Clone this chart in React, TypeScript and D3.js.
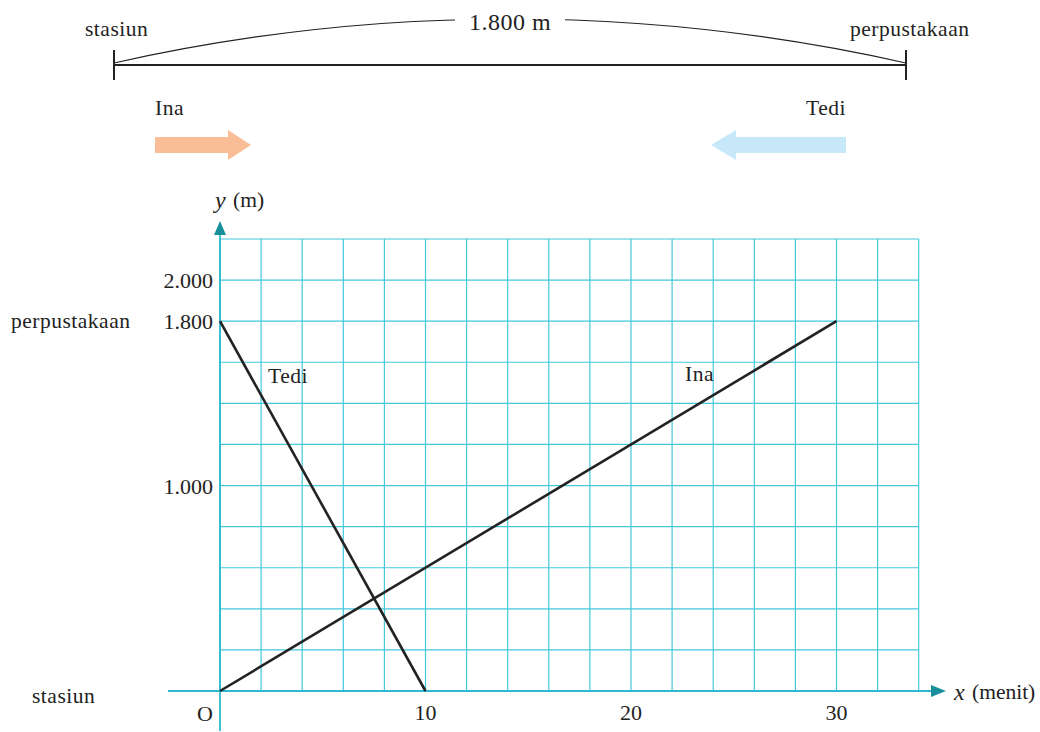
import React from "react";
import * as d3 from "d3";

const xTicks = [10, 20, 30];
const yTicks = [1000, 1800, 2000];
const inaLine = [
  { t: 0, d: 0 },
  { t: 30, d: 1800 },
];
const tediLine = [
  { t: 0, d: 1800 },
  { t: 10, d: 0 },
];
const xGrid = d3.range(0, 35, 2);
const yGrid = d3.range(0, 2201, 200);
const distanceLabel = "1.800 m";

const W = 1040;
const H = 732;
const FONT = "'Liberation Serif', 'Times New Roman', serif";
const GRID = "#43c8dc";
const AXIS = "#2fb9d0";
const ARROW = "#17909c";
const INK = "#222";
const LBL = 21.5;
const TICK = 22;
const LS = 0.5;

export default function App() {
  const x = d3.scaleLinear().domain([0, 34]).range([220, 918.7]);
  const y = d3.scaleLinear().domain([0, 2200]).range([691, 239]);
  const line = d3
    .line<{ t: number; d: number }>()
    .x((p) => x(p.t))
    .y((p) => y(p.d));

  const ax0 = 114,
    ax1 = 906,
    ay = 63,
    sag = 44;
  const half = (ax1 - ax0) / 2;
  const R = (half * half + sag * sag) / (2 * sag);
  const arcPath = `M${ax0},${ay} A${R},${R} 0 0 1 ${ax1},${ay}`;

  return (
    <svg
      width={W}
      height={H}
      style={{ position: "absolute", left: 0, top: 0, background: "#fff" }}
      fontFamily={FONT}
    >
      {/* Top scheme */}
      <path d={arcPath} fill="none" stroke={INK} strokeWidth={1.2} />
      <rect x={455} y={4} width={110} height={34} fill="#fff" />
      <text x={510} y={30} textAnchor="middle" fontSize={24} fill={INK} letterSpacing={0.5}>
        {distanceLabel}
      </text>
      <line x1={ax0} x2={ax1} y1={65} y2={65} stroke={INK} strokeWidth={2} />
      <line x1={ax0} x2={ax0} y1={50} y2={80} stroke={INK} strokeWidth={2} />
      <line x1={ax1} x2={ax1} y1={50} y2={80} stroke={INK} strokeWidth={2} />
      <text x={85} y={36} fontSize={LBL} fill={INK} letterSpacing={LS}>
        stasiun
      </text>
      <text x={850} y={36} fontSize={LBL} fill={INK} letterSpacing={LS}>
        perpustakaan
      </text>
      <text x={155} y={115} fontSize={LBL} fill={INK} letterSpacing={LS}>
        Ina
      </text>
      <text x={846} y={115} textAnchor="end" fontSize={LBL} fill={INK} letterSpacing={LS}>
        Tedi
      </text>
      <path
        d="M155,137 L228,137 L228,130 L251,145 L228,160 L228,153 L155,153 Z"
        fill="#f9be98"
      />
      <path
        d="M846,137 L736,137 L736,130 L711,145 L736,160 L736,153 L846,153 Z"
        fill="#c6e8f8"
      />

      {/* Grid */}
      {xGrid.map((g) => (
        <line
          key={"gx" + g}
          x1={x(g)}
          x2={x(g)}
          y1={y(0)}
          y2={y(2200)}
          stroke={GRID}
          strokeWidth={1.2}
        />
      ))}
      {yGrid.map((g) => (
        <line
          key={"gy" + g}
          x1={x(0)}
          x2={x(34)}
          y1={y(g)}
          y2={y(g)}
          stroke={GRID}
          strokeWidth={1.2}
        />
      ))}

      {/* Axes */}
      <line x1={168} x2={936} y1={y(0)} y2={y(0)} stroke={AXIS} strokeWidth={1.8} />
      <path d={`M946,${y(0)} L931,${y(0) - 6} L931,${y(0) + 6} Z`} fill={ARROW} />
      <line x1={x(0)} x2={x(0)} y1={731} y2={232} stroke={AXIS} strokeWidth={1.8} />
      <path d={`M${x(0)},221 L${x(0) - 6},235 L${x(0) + 6},235 Z`} fill={ARROW} />

      {/* Tick labels */}
      {xTicks.map((t) => (
        <text key={"xt" + t} x={x(t)} y={720} textAnchor="middle" fontSize={TICK} fill={INK}>
          {t}
        </text>
      ))}
      {yTicks.map((t) => (
        <text
          key={"yt" + t}
          x={213}
          y={y(t) + 8}
          textAnchor="end"
          fontSize={TICK}
          fill={INK}
        >
          {d3.format(",")(t).replace(/,/g, ".")}
        </text>
      ))}
      <text x={213} y={721} textAnchor="end" fontSize={TICK} fill={INK}>
        O
      </text>
      <text x={11} y={y(1800) + 7} fontSize={LBL} fill={INK} letterSpacing={LS}>
        perpustakaan
      </text>
      <text x={32} y={703} fontSize={LBL} fill={INK} letterSpacing={LS}>
        stasiun
      </text>
      <text x={954} y={700} fontSize={24} fontStyle="italic" fill={INK}>
        x
      </text>
      <text x={972} y={699} fontSize={LBL} fill={INK}>
        (menit)
      </text>
      <text x={215} y={208} fontSize={24} fontStyle="italic" fill={INK}>
        y
      </text>
      <text x={233} y={207} fontSize={LBL} fill={INK}>
        (m)
      </text>

      {/* Lines */}
      <path d={line(inaLine) || ""} fill="none" stroke={INK} strokeWidth={2.6} />
      <path d={line(tediLine) || ""} fill="none" stroke={INK} strokeWidth={2.6} />
      <text x={268} y={383} fontSize={LBL} fill={INK} letterSpacing={LS}>
        Tedi
      </text>
      <text x={685} y={381} fontSize={LBL} fill={INK} letterSpacing={LS}>
        Ina
      </text>
    </svg>
  );
}
